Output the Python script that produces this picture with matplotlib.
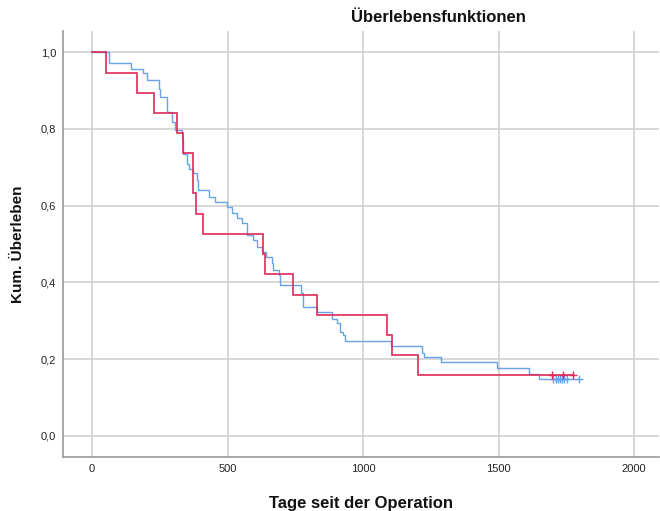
import matplotlib
matplotlib.use('Agg')
import matplotlib.pyplot as plt
import numpy as np

plt.rcParams['font.family'] = ['Liberation Sans', 'DejaVu Sans']

# Kaplan-Meier-Stufen Gruppe 1 (blau): Tage und kumulatives Überleben
blau_tage = [0, 62, 143, 189, 204, 247, 252, 275, 294, 306, 331, 337, 349, 356,
             374, 386, 392, 430, 452, 499, 515, 534, 552, 573, 593, 608, 626,
             642, 663, 669, 691, 694, 771, 780, 831, 887, 903, 915, 927, 934,
             1102, 1219, 1225, 1288, 1493, 1614, 1651]
blau_surv = [1.0, 0.971, 0.956, 0.945, 0.927, 0.905, 0.884, 0.845, 0.818, 0.797,
             0.776, 0.736, 0.710, 0.697, 0.684, 0.667, 0.640, 0.623, 0.610,
             0.596, 0.580, 0.567, 0.554, 0.523, 0.510, 0.493, 0.480, 0.467,
             0.450, 0.432, 0.419, 0.393, 0.372, 0.337, 0.322, 0.306, 0.293,
             0.272, 0.263, 0.248, 0.234, 0.215, 0.205, 0.192, 0.176, 0.161, 0.148]
blau_zensiert = [1702, 1711, 1718, 1725, 1733, 1741, 1751, 1797]

# Gruppe 2 (rot)
rot_tage = [0, 52, 167, 229, 312, 337, 374, 383, 411, 630, 638, 740, 831,
            1087, 1108, 1202]
rot_surv = [1.0, 0.947, 0.895, 0.842, 0.789, 0.737, 0.632, 0.579, 0.526,
            0.474, 0.421, 0.368, 0.316, 0.263, 0.211, 0.158]
rot_zensiert = [1699, 1739, 1776]

x_ticks = [0, 500, 1000, 1500, 2000]
y_ticks = [0.0, 0.2, 0.4, 0.6, 0.8, 1.0]
y_ticklabels = ['0,0', '0,2', '0,4', '0,6', '0,8', '1,0']

farbe_blau = '#66A3EA'
farbe_rot = '#DE2A57'


def kurve_zeichnen(ax, tage, surv, zensiert, farbe, lw):
    # Stufenlinie bis zum letzten zensierten Fall verlängern
    t = list(tage) + [max(zensiert)]
    s = list(surv) + [surv[-1]]
    ax.step(t, s, where='post', color=farbe, lw=lw, solid_joinstyle='miter')
    ax.plot(zensiert, [surv[-1]] * len(zensiert), linestyle='none', marker='+',
            markersize=6, markeredgewidth=1.0, color=farbe)


fig = plt.figure(figsize=(6.6, 5.11), dpi=100)
ax = fig.add_axes([0.0955, 0.1057, 0.9030, 0.8333])

kurve_zeichnen(ax, blau_tage, blau_surv, blau_zensiert, farbe_blau, 1.0)
kurve_zeichnen(ax, rot_tage, rot_surv, rot_zensiert, farbe_rot, 1.2)

ax.set_xlim(-107, 2092)
ax.set_ylim(-0.055, 1.055)
ax.set_xticks(x_ticks)
ax.set_yticks(y_ticks)
ax.set_yticklabels(y_ticklabels)
ax.tick_params(length=0, labelsize=8, colors='#222222', pad=5)
ax.grid(True, color='#CDCDCD', lw=1.1)
ax.set_axisbelow(True)

for seite in ['top', 'right']:
    ax.spines[seite].set_visible(False)
for seite in ['left', 'bottom']:
    ax.spines[seite].set_color('#999999')
    ax.spines[seite].set_linewidth(1.2)

ax.set_xlabel('Tage seit der Operation', fontsize=12, fontweight='bold',
              color='#111111', labelpad=16)
ax.set_ylabel('Kum. Überleben', fontsize=11, fontweight='bold',
              color='#111111', labelpad=11)

fig.text(0.665, 0.965, 'Überlebensfunktionen', ha='center', va='center',
         fontsize=12, fontweight='bold', color='#111111')

fig.savefig('out.png', dpi=100)
